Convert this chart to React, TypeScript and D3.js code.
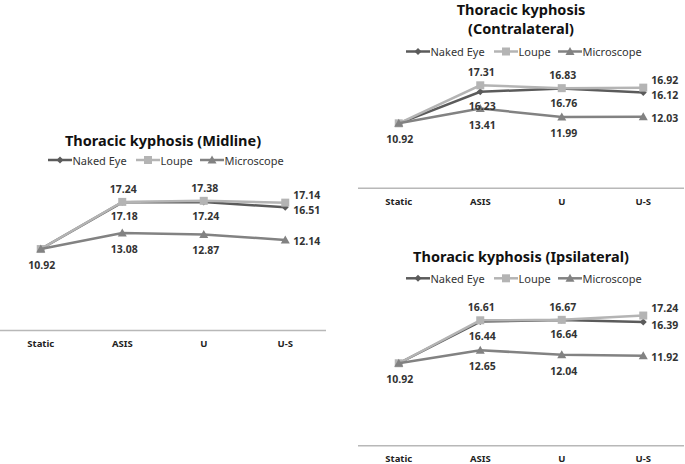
import React from "react";
import * as d3 from "d3";

const categories = ["Static", "ASIS", "U", "U-S"];
const seriesNames = ["Naked Eye", "Loupe", "Microscope"];

const midlineNaked = [10.92, 17.18, 17.24, 16.51];
const midlineLoupe = [10.92, 17.24, 17.38, 17.14];
const midlineMicro = [10.92, 13.08, 12.87, 12.14];

const contraNaked = [10.92, 16.23, 16.76, 16.12];
const contraLoupe = [10.92, 17.31, 16.83, 16.92];
const contraMicro = [10.92, 13.41, 11.99, 12.03];

const ipsiNaked = [10.92, 16.44, 16.64, 16.39];
const ipsiLoupe = [10.92, 16.61, 16.67, 17.24];
const ipsiMicro = [10.92, 12.65, 12.04, 11.92];

const yDomain = [0, 20];

const COLORS = ["#5b5b5b", "#b4b4b4", "#828282"];
const FONT = "'Noto Sans', 'Open Sans', sans-serif";

type PanelProps = {
  titleLines: string[];
  titleY: number;
  legendY: number;
  x0: number;
  x1: number;
  axisY: number;
  topY: number;
  series: number[][];
};

function Marker({ type, x, y, color }: { type: number; x: number; y: number; color: string }) {
  if (type === 0) {
    const s = 3.5;
    return <path d={`M${x},${y - s}L${x + s},${y}L${x},${y + s}L${x - s},${y}Z`} fill={color} />;
  }
  if (type === 1) {
    return <rect x={x - 4} y={y - 4} width={8} height={8} fill={color} />;
  }
  return <path d={`M${x},${y - 4.5}L${x + 4.5},${y + 3.5}L${x - 4.5},${y + 3.5}Z`} fill={color} />;
}

function Panel({ titleLines, titleY, legendY, x0, x1, axisY, topY, series }: PanelProps) {
  const x = d3.scaleBand<string>().domain(categories).range([x0, x1]);
  const y = d3.scaleLinear().domain(yDomain).range([axisY, topY]);
  const cx = (c: string) => (x(c) as number) + x.bandwidth() / 2;
  const line = d3
    .line<number>()
    .x((_, i) => cx(categories[i]))
    .y((d) => y(d));
  const mid = (x0 + x1) / 2;

  const legendWidths = [76, 52, 78];
  const gap = 12;
  const totalW = legendWidths.reduce((a, b) => a + b, 0) + gap * 2;
  let lx = mid - totalW / 2;
  const legendItems = seriesNames.map((n, i) => {
    const start = lx;
    lx += legendWidths[i] + gap;
    return { n, i, start };
  });

  const labelPos = (si: number, ci: number) => {
    const last = ci === categories.length - 1;
    const px = cx(categories[ci]);
    const py = y(series[si][ci]);
    if (last) {
      const dy = si === 1 ? -8 : si === 0 ? 3 : 1;
      return { x: px + 8, y: py + dy, anchor: "start" };
    }
    if (si === 1) return { x: px + 1, y: py - 13, anchor: "middle" };
    if (si === 0) return { x: px + 2, y: py + 14, anchor: "middle" };
    return { x: px + 2, y: py + 16, anchor: "middle" };
  };

  return (
    <g>
      {titleLines.map((t, i) => (
        <text
          key={t}
          x={mid}
          y={titleY + i * 18.5}
          textAnchor="middle"
          dominantBaseline="central"
          fontFamily={FONT}
          fontWeight="bold"
          fontSize={14.5}
          fill="#111"
        >
          {t}
        </text>
      ))}
      {legendItems.map(({ n, i, start }) => (
        <g key={n}>
          <line x1={start} x2={start + 24} y1={legendY} y2={legendY} stroke={COLORS[i]} strokeWidth={2.5} />
          <Marker type={i} x={start + 12} y={legendY} color={COLORS[i]} />
          <text
            x={start + 24.5}
            y={legendY}
            dominantBaseline="central"
            fontFamily={FONT}
            fontSize={11}
            fill="#333"
          >
            {n}
          </text>
        </g>
      ))}
      <line x1={x0} x2={x1} y1={axisY} y2={axisY} stroke="#b8b8b8" strokeWidth={1.5} />
      {categories.map((c) => (
        <text
          key={c}
          x={cx(c)}
          y={axisY + 13}
          textAnchor="middle"
          dominantBaseline="central"
          fontFamily={FONT}
          fontWeight="bold"
          fontSize={9.5}
          fill="#222"
        >
          {c}
        </text>
      ))}
      {series.map((s, si) => (
        <g key={si}>
          <path d={line(s) || ""} fill="none" stroke={COLORS[si]} strokeWidth={2.5} />
          {s.map((v, ci) => (
            <Marker key={ci} type={si} x={cx(categories[ci])} y={y(v)} color={COLORS[si]} />
          ))}
        </g>
      ))}
      {series.map((s, si) =>
        s.map((v, ci) => {
          if (ci === 0 && si !== 2) return null;
          const p = ci === 0 ? { x: cx(categories[0]) + 1, y: y(v) + 16, anchor: "middle" } : labelPos(si, ci);
          return (
            <text
              key={`${si}-${ci}`}
              x={p.x}
              y={p.y}
              textAnchor={p.anchor as any}
              dominantBaseline="central"
              fontFamily={FONT}
              fontWeight="bold"
              fontSize={10.5}
              fill="#333"
            >
              {v.toFixed(2)}
            </text>
          );
        })
      )}
    </g>
  );
}

export default function App() {
  return (
    <svg
      width={685}
      height={464}
      style={{ position: "absolute", left: 0, top: 0, background: "#fff" }}
    >
      <rect width={685} height={464} fill="#fff" />
      <Panel
        titleLines={["Thoracic kyphosis (Midline)"]}
        titleY={140}
        legendY={160}
        x0={0}
        x1={326}
        axisY={330.5}
        topY={181.3}
        series={[midlineNaked, midlineLoupe, midlineMicro]}
      />
      <Panel
        titleLines={["Thoracic kyphosis", "(Contralateral)"]}
        titleY={9}
        legendY={51.5}
        x0={358}
        x1={684}
        axisY={188.3}
        topY={69.3}
        series={[contraNaked, contraLoupe, contraMicro]}
      />
      <Panel
        titleLines={["Thoracic kyphosis (Ipsilateral)"]}
        titleY={256}
        legendY={278.3}
        x0={358}
        x1={684}
        axisY={445.7}
        topY={294.7}
        series={[ipsiNaked, ipsiLoupe, ipsiMicro]}
      />
    </svg>
  );
}
